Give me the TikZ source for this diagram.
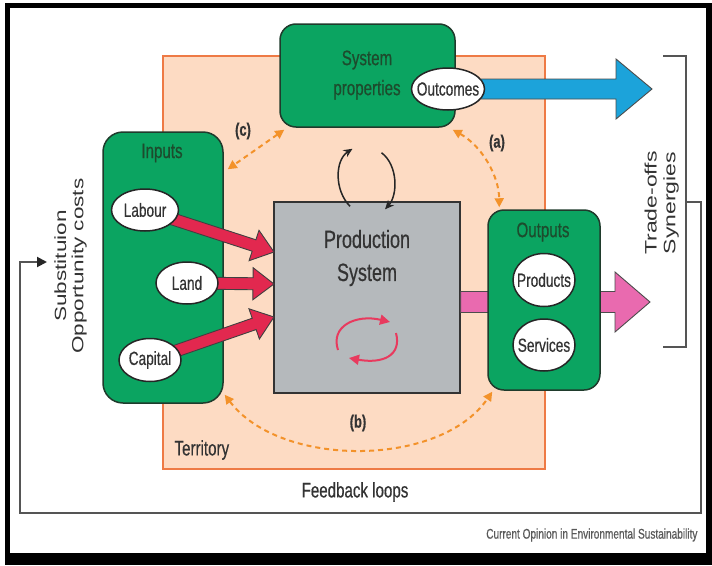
\documentclass[tikz,border=0pt]{standalone}
\usepackage{fontspec}
\setmainfont{Liberation Sans}
\newfontfamily\narrowfont{Liberation Sans}[FakeStretch=0.72,FakeBold=0.5]
\usetikzlibrary{arrows.meta,calc,shapes.geometric}

\definecolor{boxgreen}{HTML}{0BA461}
\definecolor{boxedge}{HTML}{1F3B2C}
\definecolor{labelgreen}{HTML}{1D4B2D}
\definecolor{terrfill}{HTML}{FDDBC3}
\definecolor{terredge}{HTML}{EE7A45}
\definecolor{prodgrey}{HTML}{B5B9BC}
\definecolor{inred}{HTML}{E2284F}
\definecolor{outpink}{HTML}{E96AAF}
\definecolor{outblue}{HTML}{1CA3DA}
\definecolor{loopor}{HTML}{F3922A}
\definecolor{txtgrey}{HTML}{333333}
\definecolor{cyclered}{HTML}{E83A5E}
\definecolor{fbgrey}{HTML}{555555}

\newcommand\fsz[2]{\fontsize{#1}{#2}\selectfont}

% block arrow: style, from, to, shaft half width, head half width, head length (pt)
\newcommand\blockarrow[6]{%
  \draw[#1] let \p1=(#2), \p2=(#3),
      \n1={atan2(\y2-\y1,\x2-\x1)}, \n2={veclen(\x2-\x1,\y2-\y1)-#6} in
    ($(\p1)+(\n1+90:#4pt)$)
    -- ($(\p1)+(\n1:\n2)+(\n1+90:#4pt)$)
    -- ($(\p1)+(\n1:\n2)+(\n1+90:#5pt)$)
    -- (\p2)
    -- ($(\p1)+(\n1:\n2)+(\n1-90:#5pt)$)
    -- ($(\p1)+(\n1:\n2)+(\n1-90:#4pt)$)
    -- ($(\p1)+(\n1-90:#4pt)$) -- cycle;}

\begin{document}
\begin{tikzpicture}[x=1pt,y=-1pt,
  greenbox/.style={draw=boxedge, line width=1.5pt, fill=boxgreen,
    rounded corners=16pt, inner sep=0pt},
  pill/.style={ellipse, draw=black!85, line width=1.5pt, fill=white,
    inner sep=0pt, text=txtgrey, font=\narrowfont\fsz{19}{21}},
  boxlabel/.style={text=labelgreen, font=\narrowfont\fsz{21}{30}, align=center},
  redarrow/.style={fill=inred, draw=black!75, line width=0.9pt, line join=miter},
  looparrow/.style={draw=loopor, line width=2pt, dash pattern=on 5pt off 4pt,
    {Triangle[length=9pt,width=9pt]}-{Triangle[length=9pt,width=9pt]}},
  turn/.style={draw=black!85, line width=1.5pt, -{Stealth[length=9pt,width=8pt]}},
  cycle/.style={draw=cyclered, line width=2pt, -{Triangle[length=10pt,width=10pt]}},
  sidetext/.style={text=txtgrey, rotate=90, font=\fsz{23}{28}},
  tag/.style={text=txtgrey, font=\narrowfont\bfseries\fsz{18}{20}}]

\useasboundingbox (0,0) rectangle (712,565);

% outer screen frame
\fill[white] (0,0) rectangle (712,565);
\fill[black] (5,3) rectangle (712,565);
\fill[white] (10,8) rectangle (706,553);

% territory
\node[draw=terredge, fill=terrfill, line width=1.5pt, inner sep=0pt,
  minimum width=382pt, minimum height=413pt] (terr) at (354,262.5) {};
\node[anchor=west, text=txtgrey, font=\narrowfont\fsz{21}{24}] (terrlabel) at (171,450) {Territory};

% system properties and its outcome arrow
\node[greenbox, minimum width=175pt, minimum height=103pt] (sys) at (367.5,75.5) {};
\node[boxlabel] (syslabel) at (367,75) {System\\properties};
\coordinate (outc) at (448,89);
\coordinate (bluetip) at (652,89);
\blockarrow{fill=outblue, draw=black!70, line width=0.9pt}{outc}{bluetip}{10}{30}{36}
\node[pill, minimum width=73pt, minimum height=42pt] (outcomes) at (outc) {\makebox[0pt]{Outcomes}};

% inputs, production system, outputs
\node[greenbox, rounded corners=20pt, minimum width=120pt, minimum height=271pt] (inputs) at (163,267.5) {};
\node[boxlabel] (inlabel) at (162,153) {Inputs};
\node[draw=black!80, fill=prodgrey, line width=1.4pt, inner sep=0pt,
  minimum width=186pt, minimum height=191pt] (prod) at (367,297.5) {};
\node[text=txtgrey, font=\narrowfont\fsz{25}{33}, align=center] (prodlabel) at (367,258) {Production\\System};

\coordinate (pinktip) at (650,302);
\blockarrow{fill=outpink, draw=black!70, line width=0.9pt}{prod.east|-pinktip}{pinktip}{10.5}{30}{35}

\node[greenbox, minimum width=112pt, minimum height=180pt] (outputs) at (544,300) {};
\node[boxlabel] (outlabel) at (543,232) {Outputs};
\node[pill, minimum width=62pt, minimum height=53pt] (products) at (544,280) {\makebox[0pt]{Products}};
\node[pill, minimum width=62pt, minimum height=52pt] (services) at (544,345) {\makebox[0pt]{Services}};

% input arrows into the production system
\coordinate (labc) at (145,210);
\coordinate (landc) at (187,283);
\coordinate (capc) at (150,360);
\coordinate (inA) at (274,252);
\coordinate (inB) at (274,284);
\coordinate (inC) at (274,317);
\blockarrow{redarrow}{labc}{inA}{6}{16}{21}
\blockarrow{redarrow}{landc}{inB}{6}{16}{21}
\blockarrow{redarrow}{capc}{inC}{6}{16}{21}
\node[pill, minimum width=67pt, minimum height=42pt] (labour) at (labc) {\makebox[0pt]{Labour}};
\node[pill, minimum width=62pt, minimum height=42pt] (land) at (landc) {\makebox[0pt]{Land}};
\node[pill, minimum width=62pt, minimum height=43pt] (capital) at (capc) {\makebox[0pt]{Capital}};

% exchange between production and system properties
\draw[turn] ($(prod.north)+(-17,5)$) .. controls (334,190) and (335,160) .. ($(sys.south)+(-15,21)$);
\draw[turn] ($(sys.south)+(14,25)$) .. controls (398,165) and (398,195) .. ($(prod.north)+(18,8)$);

% internal cycle
\coordinate (cyA) at (338,350);
\coordinate (cyB) at (390,322);
\coordinate (cyC) at (396,333);
\coordinate (cyD) at (349,358);
\draw[cycle] (cyA) .. controls (330,326) and (356,314) .. (cyB);
\draw[cycle] (cyC) .. controls (402,356) and (382,364) .. (cyD);

% feedback loops (a), (b), (c)
\draw[looparrow] ($(sys.south west)+(5,2)$) -- ($(inputs.north east)+(4,38)$);
\node[tag] (tagc) at (243,131) {(c)};
\draw[looparrow] ($(sys.south east)+(-3,2)$) .. controls (482,146) and (499,176) .. ($(outputs.north west)+(12,-2)$);
\node[tag] (taga) at (497,143) {(a)};
\draw[looparrow] ($(inputs.south east)+(1,-9)$) .. controls (280,468) and (440,468) .. ($(outputs.south west)+(5,1)$);
\node[tag] (tagb) at (358,423) {(b)};

% trade-offs bracket and the feedback line back to the inputs
\coordinate (brtop) at (663,56);
\coordinate (brbot) at (663,347);
\coordinate (brmid) at (686,202);
\coordinate (fbend) at (47,262);
\draw[fbgrey, line width=2pt] (brtop) -- (686,56) -- (686,347) -- (brbot);
\draw[fbgrey, line width=2pt, -{Triangle[length=10pt,width=10pt,color=black!85]}]
  (brmid) -- (701,202) -- (701,513) -- (20,513) -- (20,262) -- (fbend);

\node[sidetext] (tradeoffs) at (662,203) {\scalebox{1}[0.72]{\begin{tabular}{@{}c@{}}Trade-offs\\[-2pt]Synergies\end{tabular}}};
\node[sidetext, font=\fsz{22.5}{26}] (subst) at (71,266) {\scalebox{1}[0.72]{\begin{tabular}{@{}c@{}}Substituion\\[-2pt]Opportunity costs\end{tabular}}};

\node[text=txtgrey, font=\narrowfont\fsz{21}{24}] (fbtext) at (355,492) {Feedback loops};
\node[anchor=east, text=black!65, font=\narrowfont\fsz{14}{16}] (credit) at (701,535) {Current Opinion in Environmental Sustainability};

\end{tikzpicture}
\end{document}
